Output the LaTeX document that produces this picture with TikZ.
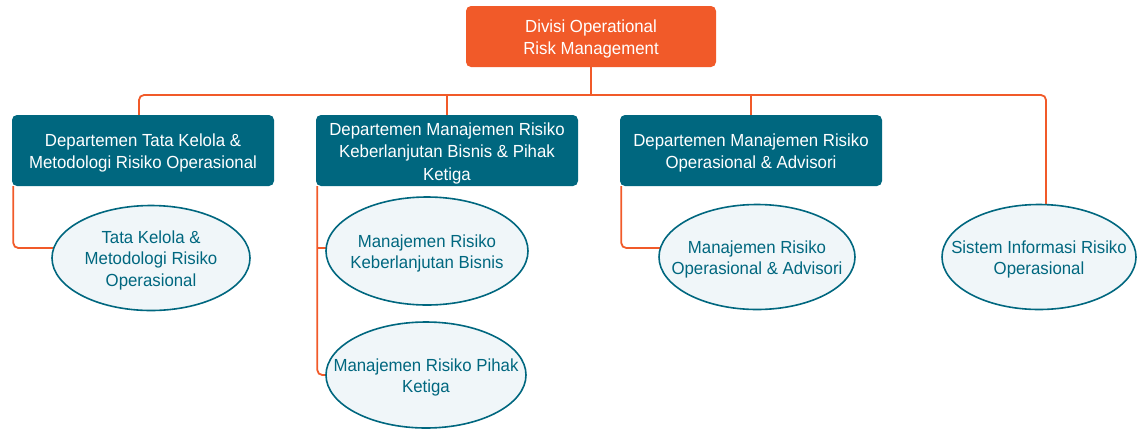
\documentclass[tikz,border=0pt]{standalone}
\usepackage{fontspec}
\setmainfont[FakeStretch=0.96]{Liberation Sans}
\usetikzlibrary{shapes.geometric}
\definecolor{orgc}{HTML}{F15A29}
\definecolor{tealc}{HTML}{00677F}
\definecolor{ellfill}{HTML}{F0F6F9}
\newcommand{\ztext}[1]{\makebox[0pt]{\raisebox{-7pt}[0pt][0pt]{\begin{tabular}{@{}c@{}}#1\end{tabular}}}}
\tikzset{
  topbox/.style={draw=none, fill=orgc, rounded corners=5pt, text=white,
    minimum width=250pt, minimum height=61pt, inner sep=0pt, font=\fontsize{17.5}{21.5}\selectfont},
  deptbox/.style={draw=none, fill=tealc, rounded corners=5pt, text=white,
    minimum width=262pt, minimum height=71pt, inner sep=0pt, font=\fontsize{17.5}{22.5}\selectfont},
  unit/.style={ellipse, draw=tealc, line width=1.6pt, fill=ellfill, text=tealc,
    inner sep=0pt, font=\fontsize{17.5}{21.5}\selectfont},
  conn/.style={draw=orgc, line width=1.8pt, rounded corners=5pt}
}
\begin{document}
\begin{tikzpicture}[x=1pt,y=-1pt]
\useasboundingbox (0,0) rectangle (1137,429);
\coordinate (busL) at (139,95);
\coordinate (busR) at (1046,95);
\coordinate (topS) at (591,67);
\coordinate (d1N) at (139,115);
\coordinate (e5N) at (1046,206);
\draw[conn] (d1N) -- (busL) -- (busR) -- (e5N);
\draw[conn] (topS) -- (topS |- busL);
\draw[conn] (447,115) -- (447,95);
\draw[conn] (751,115) -- (751,95);
\node[topbox] (top) at (591,36.5) {\ztext{Divisi Operational\\Risk Management}};
\node[deptbox] (d1) at (143,150.5) {\ztext{Departemen Tata Kelola \&\\Metodologi Risiko Operasional}};
\node[deptbox] (d2) at (447,150.5) {\ztext{Departemen Manajemen Risiko\\Keberlanjutan Bisnis \& Pihak\\Ketiga}};
\node[deptbox] (d3) at (751,150.5) {\ztext{Departemen Manajemen Risiko\\Operasional \& Advisori}};
\draw[conn] ([xshift=1.5pt]d1.south west) |- (56,248);
\draw[conn] ([xshift=1.5pt]d2.south west) |- (330,375);
\draw[conn] ([xshift=1.5pt]d2.south west |- 0,248) -- (330,248);
\draw[conn] ([xshift=1.5pt]d3.south west) |- (662,248);
\node[unit, minimum width=198pt, minimum height=105pt] (e1) at (151,258) {\ztext{Tata Kelola \&\\Metodologi Risiko\\Operasional}};
\node[unit, minimum width=202pt, minimum height=108pt] (e2) at (427,251) {\ztext{Manajemen Risiko\\Keberlanjutan Bisnis}};
\node[unit, minimum width=200pt, minimum height=106pt] (e3) at (426,375) {\ztext{Manajemen Risiko Pihak\\Ketiga}};
\node[unit, minimum width=196pt, minimum height=105pt] (e4) at (757,257) {\ztext{Manajemen Risiko\\Operasional \& Advisori}};
\node[unit, minimum width=194pt, minimum height=105pt] (e5) at (1039,257) {\ztext{Sistem Informasi Risiko\\Operasional}};
\end{tikzpicture}
\end{document}
